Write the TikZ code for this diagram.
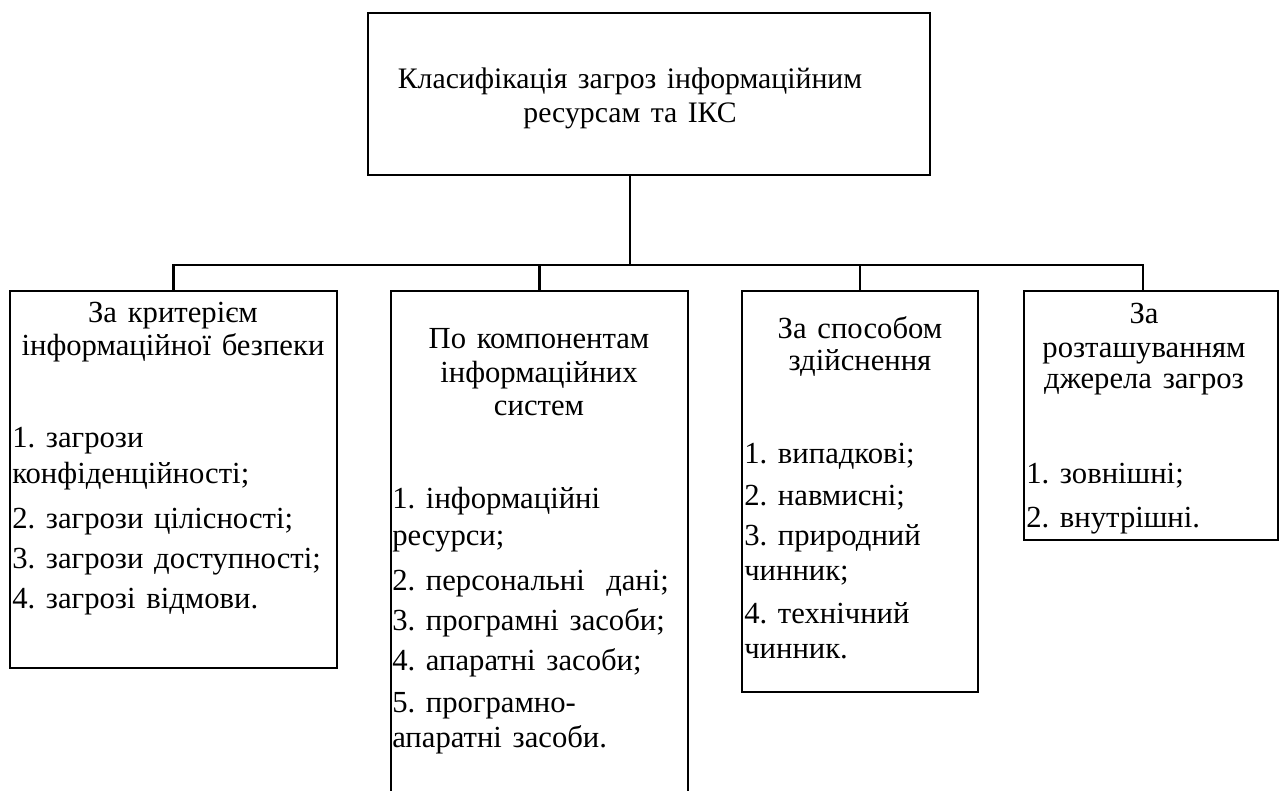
\documentclass[tikz,border=0pt]{standalone}
\usepackage{fontspec}
\setmainfont{Liberation Serif}[WordSpace=1.4]
\frenchspacing
\begin{document}
\begin{tikzpicture}[x=0.75pt,y=-0.75pt,
  box/.style={draw, line width=1.6pt, rectangle, inner sep=0pt},
  conn/.style={line width=1.6pt},
  txt/.style={anchor=base west, inner sep=0pt, font=\fontsize{23}{26}\selectfont},
  head/.style={anchor=base, inner sep=0pt, font=\fontsize{23}{26}\selectfont},
  ttl/.style={anchor=base, inner sep=0pt, font=\fontsize{22.3}{26}\selectfont}]
\useasboundingbox (0,0) rectangle (1280,790);
% boxes
\node[box, minimum width=421.5pt, minimum height=121.5pt] (top) at (649,94) {};
\node[box, minimum width=245.25pt, minimum height=282.75pt] (b1) at (173.5,479.5) {};
\node[box, minimum width=222.75pt, minimum height=381.75pt] (b2) at (539.5,545.5) {};
\node[box, minimum width=177pt, minimum height=300.75pt] (b3) at (860,491.5) {};
\node[box, minimum width=190.5pt, minimum height=186.75pt] (b4) at (1151,415.5) {};
% connectors
\coordinate (j) at (630,265);
\coordinate (d4) at (1143,265);
\draw[conn] (top.south -| j) -- (j);
\draw[conn] (b1.north) |- (j) -- (d4) -- (d4 |- b4.north);
\draw[conn] (b2.north) -- (b2.north |- j);
\draw[conn] (b3.north) -- (b3.north |- j);
% title
\node[ttl] (t1) at (630,88) {Класифікація загроз інформаційним};
\node[ttl] (t2) at (630,122) {ресурсам та ІКС};
% box 1
\node[head] (h11) at (173,322) {За критерієм};
\node[head] (h12) at (173,355) {інформаційної безпеки};
\node[txt] (i11) at (12,447) {1. загрози};
\node[txt] (i12) at (12,483) {конфіденційності;};
\node[txt] (i13) at (12,528) {2. загрози цілісності;};
\node[txt] (i14) at (12,568) {3. загрози доступності;};
\node[txt] (i15) at (12,608) {4. загрозі відмови.};
% box 2
\node[head] (h21) at (539,348) {По компонентам};
\node[head] (h22) at (539,382) {інформаційних};
\node[head] (h23) at (539,415) {систем};
\node[txt] (i21) at (392,508) {1. інформаційні};
\node[txt] (i22) at (392,545) {ресурси;};
\node[txt] (i23) at (392,590) {2. персональні\ \ дані;};
\node[txt] (i24) at (392,630) {3. програмні засоби;};
\node[txt] (i25) at (392,670) {4. апаратні засоби;};
\node[txt] (i26) at (392,712) {5. програмно-};
\node[txt] (i27) at (392,747) {апаратні засоби.};
% box 3
\node[head] (h31) at (860,338) {За способом};
\node[head] (h32) at (860,370) {здійснення};
\node[txt] (i31) at (744,463) {1. випадкові;};
\node[txt] (i32) at (744,505) {2. навмисні;};
\node[txt] (i33) at (744,545) {3. природний};
\node[txt] (i34) at (744,580) {чинник;};
\node[txt] (i35) at (744,623) {4. технічний};
\node[txt] (i36) at (744,658) {чинник.};
% box 4
\node[head] (h41) at (1144,323) {За};
\node[head] (h42) at (1144,357) {розташуванням};
\node[head] (h43) at (1144,388) {джерела загроз};
\node[txt] (i41) at (1026,483) {1. зовнішні;};
\node[txt] (i42) at (1026,527) {2. внутрішні.};
\end{tikzpicture}
\end{document}
